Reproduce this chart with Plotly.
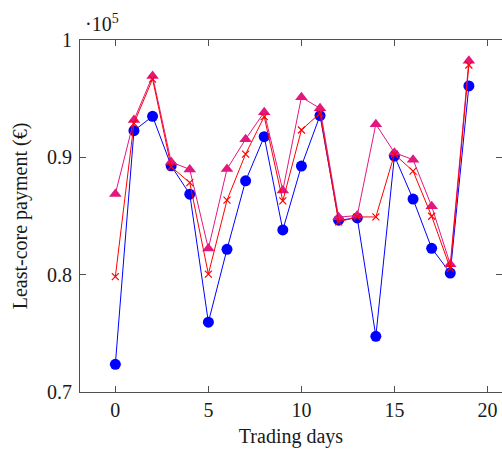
import plotly.graph_objects as go

days = list(range(20))
blue_vals = [72360, 92270, 93500, 89280, 86860, 75950, 82160, 88000, 91760, 83810,
             89260, 93560, 84640, 84840, 74750, 90110, 86440, 82250, 80140, 96090]
red_vals = [79830, 92900, 96670, 89200, 87840, 80050, 86350, 90280, 93470, 86290,
            92330, 93760, 84500, 84920, 84920, 90260, 88830, 84980, 80540, 97870]
magenta_vals = [86880, 93180, 96930, 89600, 88970, 82220, 89000, 91550, 93850, 87180,
                95120, 94180, 84900, 85040, 92820, 90400, 89800, 85830, 80880, 98240]

x_ticks = [0, 5, 10, 15, 20]
y_tickvals = [70000, 80000, 90000, 100000]
y_ticktext = ["0.7", "0.8", "0.9", "1"]

FONT = "Liberation Serif"
FS = 20
AX = "#505050"
TXT = "#1a1a1a"

fig = go.Figure()
fig.add_trace(go.Scatter(x=days, y=blue_vals, mode="lines+markers",
                         line=dict(color="#0000ff", width=1),
                         marker=dict(symbol="circle", size=11, color="#0000ff")))
fig.add_trace(go.Scatter(x=days, y=magenta_vals, mode="lines+markers",
                         line=dict(color="#e2177f", width=1),
                         marker=dict(symbol="triangle-up", size=11, color="#e2177f")))
fig.add_trace(go.Scatter(x=days, y=red_vals, mode="lines+markers",
                         line=dict(color="#ff0000", width=1),
                         marker=dict(symbol="x-thin", size=7,
                                     line=dict(color="#ff0000", width=1.2), color="#ff0000")))

fig.update_layout(
    width=502, height=450,
    margin=dict(l=80, r=0, t=40, b=58),
    paper_bgcolor="white", plot_bgcolor="white",
    showlegend=False,
    font=dict(family=FONT, size=FS, color=TXT),
    xaxis=dict(range=[-1.9, 20.78], tickvals=x_ticks, ticks="inside", ticklen=6,
               tickcolor=AX, showline=True, linecolor=AX, linewidth=1, mirror="ticks",
               showgrid=False, zeroline=False,
               title=dict(text="Trading days", standoff=8, font=dict(size=FS))),
    yaxis=dict(range=[70000, 100000], tickvals=y_tickvals, ticktext=y_ticktext,
               ticks="inside", ticklen=6, tickcolor=AX, showline=True, linecolor=AX,
               linewidth=1, mirror="ticks", showgrid=False, zeroline=False,
               ticklabelstandoff=3,
               title=dict(text="Least-core payment (€)", standoff=14, font=dict(size=FS))),
)
fig.add_annotation(text="·10<sup>5</sup>", xref="paper", yref="paper", x=0.008, y=1.0,
                   xanchor="left", yanchor="bottom", showarrow=False, yshift=3,
                   font=dict(family=FONT, size=20, color=TXT))

fig.write_html(
    "out.html",
    config={"displayModeBar": False},
    post_script="document.body.style.margin='0';document.body.style.overflow='hidden';",
)
